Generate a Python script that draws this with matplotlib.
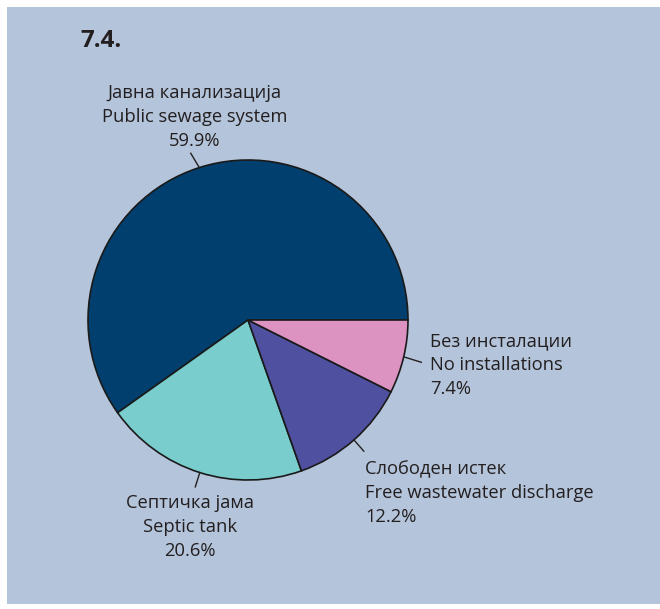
import matplotlib
matplotlib.use("Agg")
import matplotlib.pyplot as plt
import numpy as np
from matplotlib.patches import Rectangle

# Data
labels_mk = ["Јавна канализација", "Септичка јама", "Слободен истек", "Без инсталации"]
labels_en = ["Public sewage system", "Septic tank", "Free wastewater discharge", "No installations"]
values = [59.9, 20.6, 12.2, 7.4]
colors = ["#003f6e", "#79cdcd", "#5050a0", "#dc93c2"]
title = "7.4."

W, H = 660, 609
fig = plt.figure(figsize=(W / 100, H / 100), dpi=100)
fig.patch.set_facecolor("white")
ax = fig.add_axes([0, 0, 1, 1])

# background panel
ax.add_patch(Rectangle((7, 5), W - 7, H - 12, facecolor="#b4c4da", edgecolor="none", zorder=0))

cx, cy, r = 248, H - 320, 160
wedges, _ = ax.pie(values, colors=colors, startangle=0, counterclock=True,
                   center=(cx, cy), radius=r, frame=True,
                   wedgeprops=dict(edgecolor="#1a1a1a", linewidth=1.2))
ax.set_xlim(0, W)
ax.set_ylim(0, H)
ax.set_aspect("equal")
ax.axis("off")

font = "Open Sans"
tc = "#231f20"
fs = 13.2

ax.text(80, H - 41, title, fontsize=17.5, fontweight="bold", family=font, color=tc,
        ha="left", va="center")

# label positions (pixel coords of block center / anchor)
label_pos = [(195, 117, "center"), (190, 527, "center"), (365, 493, "left"), (430, 365, "left")]
for i, (w, v) in enumerate(zip(wedges, values)):
    mid = np.deg2rad((w.theta1 + w.theta2) / 2)
    x0, y0 = cx + r * np.cos(mid), cy + r * np.sin(mid)
    x1, y1 = cx + (r + 15) * np.cos(mid), cy + (r + 15) * np.sin(mid)
    if i == 0:
        x1 -= 4
    if i == 3:
        x1 += 3
        y1 -= 2
    ax.plot([x0, x1], [y0, y1], color="#231f20", lw=1, zorder=3)
    lx, ly, ha = label_pos[i]
    txt = f"{labels_mk[i]}\n{labels_en[i]}\n{v:.1f}%"
    ax.text(lx, H - ly, txt, fontsize=fs, family=font, color=tc, ha=ha, va="center",
            multialignment="center" if ha == "center" else "left", linespacing=1.42)

fig.savefig("out.png", dpi=100)
